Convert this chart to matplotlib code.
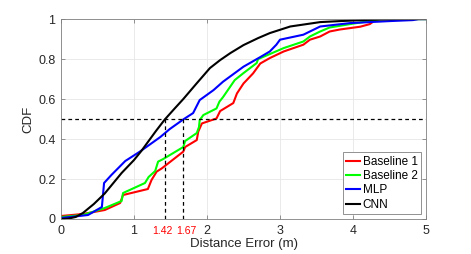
import matplotlib
matplotlib.use("Agg")
import matplotlib.pyplot as plt

plt.rcParams['font.family'] = ['Liberation Sans', 'DejaVu Sans']

# Data
b1_x = [0, 0.3, 0.6, 0.81, 0.85, 1.19, 1.24, 1.31, 1.38, 1.675, 1.70, 1.86, 1.88, 1.93, 2.13, 2.18, 2.36, 2.41, 2.50, 2.63, 2.73, 2.86, 3.05, 3.32, 3.41, 3.55, 3.68, 3.82, 4.10, 4.23, 4.26]
b1_y = [0.015, 0.025, 0.045, 0.08, 0.12, 0.15, 0.195, 0.237, 0.253, 0.337, 0.36, 0.395, 0.437, 0.478, 0.503, 0.54, 0.58, 0.628, 0.678, 0.728, 0.778, 0.805, 0.838, 0.872, 0.897, 0.913, 0.938, 0.948, 0.962, 0.975, 0.983]

b2_x = [0, 0.3, 0.6, 0.83, 0.85, 1.15, 1.2, 1.29, 1.33, 1.40, 1.675, 1.70, 1.86, 1.89, 1.9, 1.95, 2.13, 2.17, 2.22, 2.38, 2.50, 2.68, 2.70, 2.86, 3.05, 3.32, 3.41, 3.55, 3.68, 3.96, 4.23, 4.37, 5.0]
b2_y = [0.01, 0.02, 0.055, 0.09, 0.13, 0.18, 0.21, 0.24, 0.287, 0.30, 0.36, 0.39, 0.43, 0.46, 0.495, 0.52, 0.553, 0.587, 0.61, 0.695, 0.73, 0.78, 0.80, 0.825, 0.855, 0.888, 0.913, 0.938, 0.958, 0.975, 0.99, 1.0, 1.0]

mlp_x = [0, 0.37, 0.56, 0.59, 0.69, 0.88, 1.08, 1.36, 1.49, 1.675, 1.81, 1.9, 2.09, 2.22, 2.50, 2.73, 2.86, 2.95, 3.0, 3.32, 3.46, 3.55, 3.96, 4.5, 4.82, 4.9, 5.0]
mlp_y = [0.005, 0.02, 0.06, 0.18, 0.22, 0.29, 0.337, 0.41, 0.45, 0.498, 0.53, 0.595, 0.645, 0.687, 0.762, 0.81, 0.838, 0.872, 0.897, 0.922, 0.947, 0.963, 0.98, 0.99, 0.995, 1.0, 1.0]

cnn_x = [0, 0.1, 0.2, 0.3, 0.45, 0.6, 0.83, 1.0, 1.1, 1.2, 1.3, 1.42, 1.55, 1.675, 1.85, 2.04, 2.18, 2.32, 2.5, 2.7, 2.86, 3.14, 3.55, 3.82, 4.2, 4.6, 5.0]
cnn_y = [0.0, 0.002, 0.01, 0.03, 0.075, 0.128, 0.23, 0.295, 0.34, 0.39, 0.44, 0.497, 0.55, 0.60, 0.675, 0.755, 0.795, 0.83, 0.87, 0.905, 0.93, 0.963, 0.985, 0.99, 0.996, 1.0, 1.0]

series_names = ["Baseline 1", "Baseline 2", "MLP", "CNN"]
series_colors = ["#ff0000", "#00ff00", "#0000ff", "#000000"]
marks = [1.42, 1.67]
mark_label_offsets = [-0.03, 0.05]
x_ticks = [0, 1, 2, 3, 4, 5]
y_ticks = [0, 0.2, 0.4, 0.6, 0.8, 1]
y_tick_labels = ["0", "0.2", "0.4", "0.6", "0.8", "1"]

fig = plt.figure(figsize=(4.71, 2.54), dpi=100)
ax = fig.add_axes([0.1295, 0.1378, 0.775, 0.787])

data = [(b1_x, b1_y), (b2_x, b2_y), (mlp_x, mlp_y), (cnn_x, cnn_y)]
for (xs, ys), name, c in zip(data, series_names, series_colors):
    ax.plot(xs, ys, color=c, lw=1.5, label=name)

dash = (0, (3, 2.5))
ax.plot([0, 5], [0.5, 0.5], color="k", lw=0.9, linestyle=dash)
for m, off in zip(marks, mark_label_offsets):
    ax.plot([m, m], [0, 0.5], color="k", lw=0.9, linestyle=dash)
    ax.text(m + off, -0.035, f"{m:.2f}", color="red", fontsize=7.5, ha="center", va="top")

ax.set_xlim(0, 5)
ax.set_ylim(0, 1)
ax.set_xticks(x_ticks)
ax.set_yticks(y_ticks)
ax.set_yticklabels(y_tick_labels)
ax.grid(True, color="#e6e6e6", lw=0.6)
ax.set_axisbelow(True)
gray = "#262626"
for s in ax.spines.values():
    s.set_color("#808080")
    s.set_linewidth(0.6)
ax.tick_params(direction="in", length=3, width=0.6, colors="#808080", labelcolor=gray,
               labelsize=9, top=True, right=True, pad=4)
ax.set_xlabel("Distance Error (m)", fontsize=9.5, color=gray, labelpad=1)
ax.set_ylabel("CDF", fontsize=9.5, color=gray, labelpad=3)

leg = ax.legend(loc="lower right", fontsize=8.5, handlelength=1.2, handletextpad=0.2,
                borderpad=0.3, labelspacing=0.2, fancybox=False, framealpha=1,
                borderaxespad=0.4)
leg.get_frame().set_edgecolor("#808080")
leg.get_frame().set_linewidth(0.6)

fig.savefig("out.png", dpi=100)
